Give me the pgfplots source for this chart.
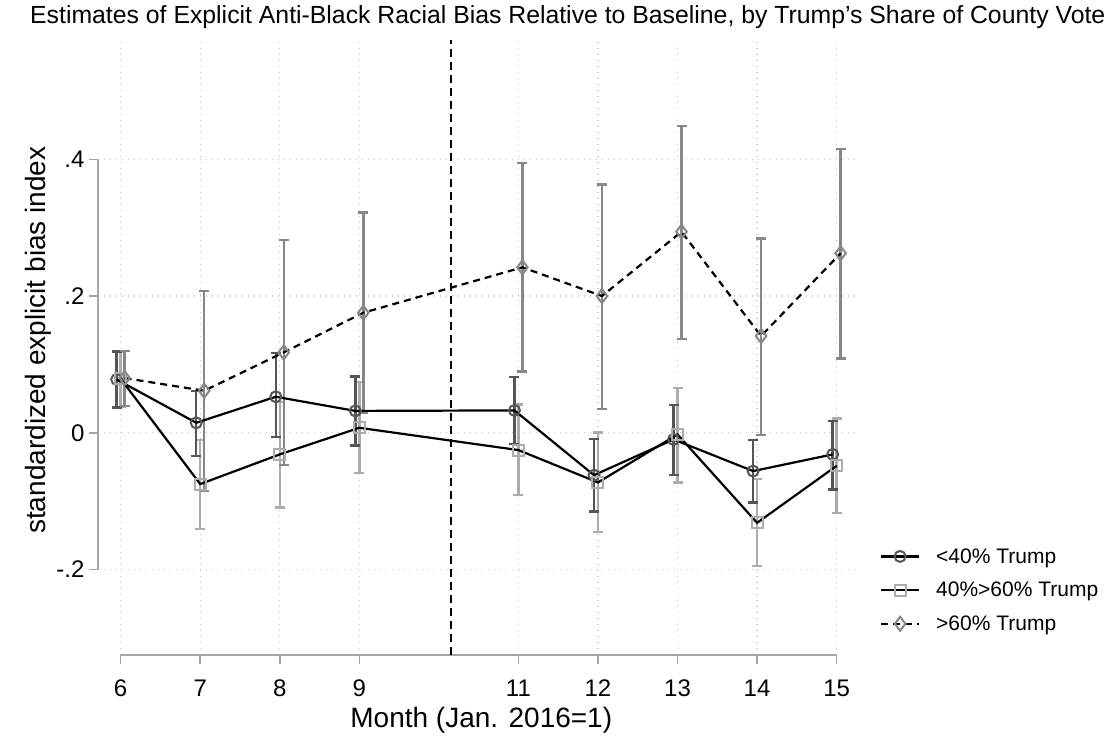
\documentclass[border=0pt]{standalone}
\usepackage{fontspec}
\setmainfont{Liberation Sans}
\usepackage{pgfplots}
\pgfplotsset{compat=1.18}
\usepackage{pgfplotstable}
\definecolor{cA}{RGB}{85,85,85}
\definecolor{cB}{RGB}{172,172,172}
\definecolor{cC}{RGB}{135,135,135}
\definecolor{gridgray}{RGB}{200,200,200}
\definecolor{axgray}{RGB}{165,165,165}

% <40% Trump (circles, plotted at month - 0.05)
\pgfplotstableread{
x y lo hi
5.95 0.078 0.037 0.119
6.95 0.0146 -0.0337 0.0615
7.95 0.0527 -0.006 0.117
8.95 0.032 -0.0185 0.0825
10.95 0.0327 -0.016 0.0815
11.95 -0.062 -0.115 -0.0092
12.95 -0.0097 -0.0614 0.0405
13.95 -0.056 -0.102 -0.0107
14.95 -0.0316 -0.0828 0.0176
}\dataA
% 40%>60% Trump (squares)
\pgfplotstableread{
x y lo hi
6 0.079 0.038 0.119
7 -0.075 -0.141 -0.0107
8 -0.0316 -0.109 0.045
9 0.0073 -0.059 0.0746
11 -0.0253 -0.091 0.0415
12 -0.0726 -0.145 0.0006
13 -0.0024 -0.0726 0.0659
14 -0.1317 -0.1946 -0.068
15 -0.0483 -0.117 0.021
}\dataB
% >60% Trump (diamonds, plotted at month + 0.05)
\pgfplotstableread{
x y lo hi
6.05 0.080 0.039 0.120
7.05 0.0615 -0.085 0.207
8.05 0.1176 -0.047 0.282
9.05 0.1756 0.029 0.322
11.05 0.242 0.0898 0.395
12.05 0.200 0.035 0.363
13.05 0.294 0.137 0.449
14.05 0.1415 -0.0034 0.284
15.05 0.2625 0.1088 0.415
}\dataC

\begin{document}
\begin{tikzpicture}
\useasboundingbox (-98pt,-81pt) rectangle (1018pt,655pt);
\begin{axis}[
  scale only axis, width=759pt, height=615pt,
  xmin=5.715, xmax=15.256, ymin=-0.325, ymax=0.5745,
  axis line style={draw=none},
  xtick={6,7,8,9,11,12,13,14,15},
  ytick={-0.2,0,0.2,0.4},
  yticklabels={-.2,0,.2,.4},
  tick align=outside, tick pos=left,
  major tick length=9pt,
  tick style={color=axgray, line width=1.6pt},
  grid=major,
  grid style={gridgray, line width=1.2pt, dash pattern=on 1.2pt off 4.8pt},
  /pgf/number format/assume math mode=true,
  tick label style={font=\fontsize{24}{28}\selectfont},
  xticklabel style={yshift=-12pt},
  yticklabel style={xshift=-1pt},
  xlabel={Month (Jan. 2016=1)},
  ylabel={standardized explicit bias index},
  label style={font=\fontsize{28}{32}\selectfont},
  xlabel style={at={(axis description cs:0.505,0)}, anchor=base, yshift=-72pt},
  ylabel style={at={(axis description cs:-0.079,0.512)}, anchor=center},
  title={Estimates of Explicit Anti-Black Racial Bias Relative to Baseline, by Trump's Share of County Vote},
  title style={font=\fontsize{24.8}{29}\selectfont, at={(axis description cs:-0.0896,1)}, anchor=base west, inner xsep=0pt, yshift=10pt},
  legend style={at={(1.03,0.177)}, anchor=north west, draw=none, fill=none,
    font=\fontsize{21}{25}\selectfont, inner sep=0pt, row sep=13.5pt,
    /tikz/every odd column/.append style={column sep=14pt}},
  legend cell align=left,
  legend image code/.code={\draw[mark repeat=2,mark phase=2,#1] plot coordinates {(0pt,0pt) (19pt,0pt) (38pt,0pt)};},
  clip=false,
]
% confidence intervals
\addplot[forget plot, draw=none, mark=none, error bars/.cd, y dir=both, y explicit, error mark=|,
  error bar style={draw=cB, solid, line width=2.4pt},
  error mark options={draw=cB, solid, line width=2.4pt, mark size=5pt}]
  table[x=x, y=y, y error plus expr=\thisrow{hi}-\thisrow{y}, y error minus expr=\thisrow{y}-\thisrow{lo}] {\dataB};
\addplot[forget plot, draw=none, mark=none, error bars/.cd, y dir=both, y explicit, error mark=|,
  error bar style={draw=cA, solid, line width=2.4pt},
  error mark options={draw=cA, solid, line width=2.4pt, mark size=5pt}]
  table[x=x, y=y, y error plus expr=\thisrow{hi}-\thisrow{y}, y error minus expr=\thisrow{y}-\thisrow{lo}] {\dataA};
\addplot[forget plot, draw=none, mark=none, error bars/.cd, y dir=both, y explicit, error mark=|,
  error bar style={draw=cC, solid, line width=2.4pt},
  error mark options={draw=cC, solid, line width=2.4pt, mark size=5pt}]
  table[x=x, y=y, y error plus expr=\thisrow{hi}-\thisrow{y}, y error minus expr=\thisrow{y}-\thisrow{lo}] {\dataC};
% estimates
\addplot[black, line width=2.2pt, mark=o, mark size=5.5pt, mark options={draw=cA, solid, line width=2pt, fill=none}]
  table[x=x, y=y] {\dataA};
\addlegendentry{<40\% Trump}
\addplot[black, line width=2.2pt, mark=square, mark size=5.5pt, mark options={draw=cB, solid, line width=2pt, fill=none}]
  table[x=x, y=y] {\dataB};
\addlegendentry{40\%>60\% Trump}
\addplot[black, line width=2.2pt, dash pattern=on 7pt off 5pt, mark=diamond, mark size=7pt, mark options={draw=cC, solid, line width=2pt, fill=none}]
  table[x=x, y=y] {\dataC};
\addlegendentry{>60\% Trump}
% axis lines and election marker
\draw[axgray, line width=2pt] (axis cs:5.715,-0.2) -- (axis cs:5.715,0.4);
\draw[axgray, line width=2pt] (axis cs:6,-0.325) -- (axis cs:15,-0.325);
\draw[black, line width=2pt, dash pattern=on 8pt off 5pt] (axis cs:10.15,-0.325) -- (axis cs:10.15,0.5745);
\end{axis}
\end{tikzpicture}
\end{document}
